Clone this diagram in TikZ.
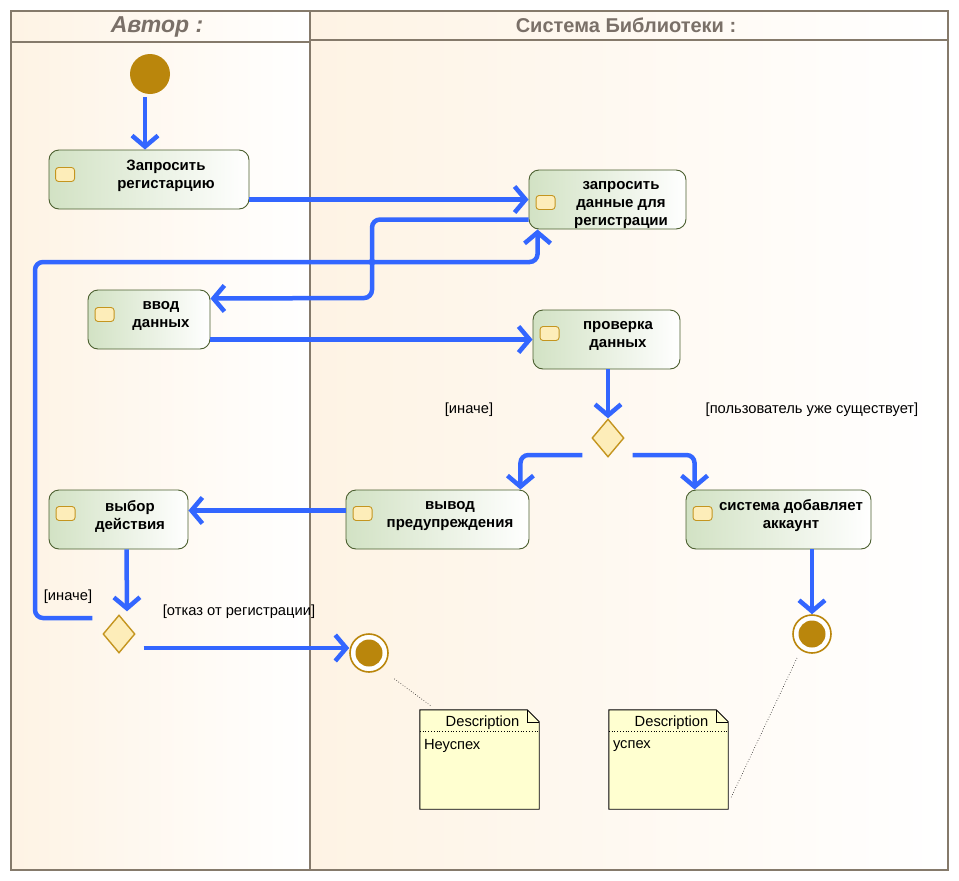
\documentclass[tikz,border=0pt]{standalone}
\usepackage{fontspec}
\setmainfont{Liberation Sans}
\usetikzlibrary{arrows.meta,calc,shapes.geometric}
\definecolor{flowblue}{RGB}{51,102,255}
\definecolor{laneline}{RGB}{133,122,107}
\definecolor{lanebg}{RGB}{254,243,228}
\definecolor{titlegray}{RGB}{122,112,104}
\definecolor{actborder}{RGB}{75,95,47}
\definecolor{actleft}{RGB}{210,226,196}
\definecolor{iconfill}{RGB}{253,237,185}
\definecolor{icondraw}{RGB}{196,149,31}
\definecolor{gold}{RGB}{186,134,12}
\definecolor{notefill}{RGB}{255,255,208}
\begin{document}
\begin{tikzpicture}[x=1pt,y=-1pt,
  lanestroke/.style={draw=laneline,line width=1.2pt},
  lanetitle/.style={text=titlegray,font=\bfseries\fontsize{20}{24}\selectfont},
  action/.style={draw=actborder,line width=0.9pt,rounded corners=10pt,
    left color=actleft,right color=white,inner sep=0pt},
  acttext/.style={font=\bfseries\fontsize{15}{18}\selectfont,align=center,inner sep=0pt},
  acticon/.style={draw=icondraw,fill=iconfill,line width=0.9pt,rounded corners=3pt,
    minimum width=19pt,minimum height=14pt,inner sep=0pt},
  decision/.style={diamond,draw=icondraw,fill=iconfill,line width=1.4pt,
    minimum width=32pt,minimum height=38pt,inner sep=0pt},
  startnode/.style={circle,fill=gold,minimum size=40pt,inner sep=0pt},
  endnode/.style={circle,draw=gold,line width=1.6pt,fill=white,minimum size=38pt,inner sep=0pt},
  flow/.style={draw=flowblue,line width=4.5pt,rounded corners=8pt,
    -{Straight Barb[length=11pt,width=26pt]}},
  guard/.style={font=\fontsize{14.7}{17}\selectfont,inner sep=0pt},
  notebody/.style={fill=notefill,draw=black,line width=0.9pt},
  notelink/.style={draw=black,line width=0.6pt,dotted},
  notetext/.style={font=\fontsize{14.7}{17}\selectfont,inner sep=0pt},
  notebox/.style={minimum width=119pt,minimum height=99pt,inner sep=0pt}
]
\useasboundingbox (0,0) rectangle (959,881);
\fill[white] (0,0) rectangle (959,881);

% swimlanes
\shade[left color=lanebg,right color=white] (11,11) rectangle (310,870);
\shade[left color=lanebg,right color=white] (310,11) rectangle (948,870);
\draw[lanestroke] (11,11) rectangle (948,870);
\draw[lanestroke] (310,11) -- (310,870);
\draw[lanestroke] (11,42) -- (310,42);
\draw[lanestroke] (310,40) -- (948,40);
\node[lanetitle,font=\bfseries\itshape\fontsize{23}{26}\selectfont] (laneA) at (157,27) {Автор :};
\node[lanetitle] (laneB) at (626,25) {Система Библиотеки :};

% start
\node[startnode] (start) at (150,74) {};

% actions
\node[action,minimum width=200pt,minimum height=59pt] (req) at (149,179.5) {};
\node[acticon] (reqI) at ($(req.west)+(16.5,-5)$) {};
\node[acttext] (reqT) at (166,176) {Запросить\\регистарцию};

\node[action,minimum width=157pt,minimum height=59pt] (dat) at (607.5,199.5) {};
\node[acticon] (datI) at ($(dat.west)+(17,3)$) {};
\node[acttext] (datT) at (621,205) {запросить\\данные для\\регистрации};

\node[action,minimum width=122pt,minimum height=59pt] (inp) at (149,319.5) {};
\node[acticon] (inpI) at ($(inp.west)+(17,-5)$) {};
\node[acttext] (inpT) at (161,316) {ввод\\данных};

\node[action,minimum width=147pt,minimum height=59pt] (chk) at (606.5,339.5) {};
\node[acticon] (chkI) at ($(chk.west)+(17,-6)$) {};
\node[acttext] (chkT) at (618,336) {проверка\\данных};

\node[decision] (dec1) at (608,438) {};

\node[action,minimum width=183pt,minimum height=59pt] (warn) at (437.5,519.5) {};
\node[acticon] (warnI) at ($(warn.west)+(17,-6)$) {};
\node[acttext] (warnT) at (450,516) {вывод\\предупреждения};

\node[action,minimum width=185pt,minimum height=59pt] (add) at (778.5,519.5) {};
\node[acticon] (addI) at ($(add.west)+(17,-6)$) {};
\node[acttext] (addT) at (791,516) {система добавляет\\аккаунт};

\node[action,minimum width=139pt,minimum height=59pt] (sel) at (118.5,519.5) {};
\node[acticon] (selI) at ($(sel.west)+(17,-6)$) {};
\node[acttext] (selT) at (130,516) {выбор\\действия};

\node[decision] (dec2) at (119,634) {};

% final nodes
\node[endnode] (fin1) at (369,653) {};
\fill[gold] (fin1) circle (13.5pt);
\node[endnode] (fin2) at (812,634) {};
\fill[gold] (fin2) circle (13.5pt);

% notes
\foreach \n/\cx/\txt in {note1/479.5/Неуспех, note2/668.5/успех}{
  \node[notebox] (\n) at (\cx,759.5) {};
  \path[notebody] (\n.north west) -- ($(\n.north east)+(-12,0)$) -- ($(\n.north east)+(0,12)$)
     -- (\n.south east) -- (\n.south west) -- cycle;
  \draw[line width=0.6pt] ($(\n.north east)+(-12,0)$) -- ($(\n.north east)+(-12,12)$) -- ($(\n.north east)+(0,12)$);
  \draw[line width=0.8pt,dotted] ($(\n.north west)+(0,22)$) -- ($(\n.north east)+(0,22)$);
  \node[notetext] (\n H) at ($(\n.north)+(3,12.5)$) {Description};
  \node[notetext,anchor=west] (\n B) at ($(\n.north west)+(4,36.5)$) {\txt};
}
\draw[notelink] ($(fin1)!0.42!(note1.north west)+(4,2)$) -- ($(note1.north west)+(11,-4)$);
\draw[notelink] ($(fin2)+(-15,24)$) -- ($(note2.south east)+(3,-12)$);

% control flows
\draw[flow] ($(start.south)+(-5,3)$) -- ($(req.north)+(-4,0)$);
\draw[flow] (req.east |- dat.west) -- (dat.west);
\draw[flow] ($(dat.west)+(0,20)$) -| (372,298) -- ($(inp.east)+(0,-21)$);
\draw[flow] (inp.east |- chk.west) -- (chk.west);
\draw[flow] ($(dec2.west)+(-10,-16)$) -| (35,262) -| ($(dat.south west)+(9,0)$);
\fill[flowblue] (372,262) circle (3.5pt);
\draw[flow] (chk.south -| dec1) -- (dec1.north);
\draw[flow] ($(dec1.west)+(-9,17)$) -| ($(warn.north east)+(-9,0)$);
\draw[flow] ($(dec1.east)+(8,17)$) -| ($(add.north west)+(9,0)$);
\draw[flow] ($(warn.west)+(0,-9)$) -- ($(sel.east)+(0,-9)$);
\draw[flow] ($(sel.south)+(8,0)$) -- ($(dec2.north)+(8,-3)$);
\draw[flow] ($(dec2.east)+(8,14)$) -- ($(fin1.west)+(0,-5)$);
\draw[flow] (add.south -| fin2) -- (fin2.north);

% guards
\node[guard] (g1) at (469,410) {[иначе]};
\node[guard] (g2) at (812,410) {[пользователь уже существует]};
\node[guard] (g3) at (68,597) {[иначе]};
\node[guard] (g4) at (239,612) {[отказ от регистрации]};
\end{tikzpicture}
\end{document}
